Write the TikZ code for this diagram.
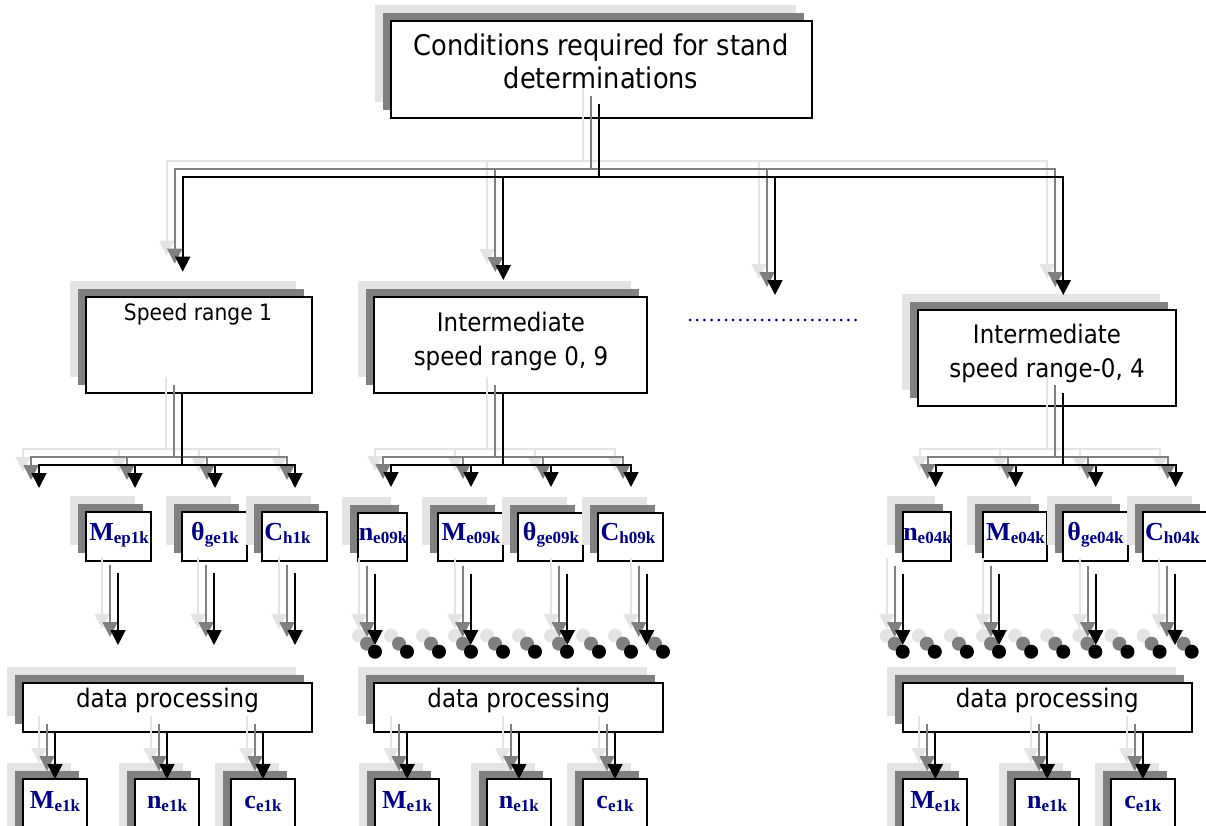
\documentclass[tikz,border=0pt]{standalone}
\usepackage{fontspec}
\setmainfont{DejaVu Sans}[FakeStretch=0.9]
\newfontfamily\lblfam{Liberation Serif}
\usetikzlibrary{arrows.meta,calc}
\definecolor{lg}{HTML}{E4E4E4}
\definecolor{mg}{HTML}{808080}
\definecolor{navy}{HTML}{000080}
\tikzset{
  bx/.style={draw=black, line width=2pt, fill=white, inner sep=0pt, outer sep=0pt},
  cn/.style={line width=1.8pt},
  arr/.style={-{Triangle[length=15pt,width=15pt]}},
  arrb/.style={{Triangle[length=15pt,width=15pt]}-{Triangle[length=15pt,width=15pt]}},
  txt/.style={anchor=base, inner sep=0pt, font=\fontsize{25.5}{30}\selectfont},
  ttop/.style={anchor=base, inner sep=0pt, font=\fontsize{28.5}{33}\selectfont},
  tsm/.style={anchor=base, inner sep=0pt, font=\fontsize{22.5}{27}\selectfont},
  lab/.style={anchor=base, inner sep=0pt, text=navy, font=\lblfam\bfseries},
  dotrow/.style={line width=3pt, line cap=round, dash pattern=on 0pt off 7.2pt},
}
\newcommand\shbx[5]{%
  \fill[lg] (#2-16,#3-16) rectangle (#4-16,#5-16);
  \fill[mg] (#2-8,#3-8) rectangle (#4-8,#5-8);
  \node[bx, minimum width={(#4-#2)*1pt}, minimum height={(#5-#3)*1pt}] (#1) at ({(#2+#4)/2},{(#3+#5)/2}) {};}
\newcommand\lbtxt[2]{{\fontsize{26}{26}\selectfont #1}\raisebox{-3.5pt}{\fontsize{17}{17}\selectfont #2}}
\newcommand\allconn{%
  % top level
  \draw[cn] (stemT) -- (jT);
  \draw[cn,arrb] (tipA) -- (jA) -- (jD) -- (tipD);
  \draw[cn,arr] (jB) -- (tipB);
  \draw[cn,arr] (jC) -- (tipC);
  % column 1
  \draw[cn] (182.3,393) -- (182.3,465);
  \draw[cn,arrb] (39,488) -- (39,465) -- (295,465) -- (295,488);
  \draw[cn,arr] (135,465) -- (135,488);
  \draw[cn,arr] (215,465) -- (215,488);
  \foreach \x in {118,214,295} \draw[cn,arr] (\x,573) -- (\x,645);
  \foreach \n in {1,2,3} \draw[cn,arr] (D1.south -| e1\n.north) -- (e1\n.north);
  % column 2
  \draw[cn] (502.7,393) -- (502.7,465);
  \draw[cn,arrb] (391,487) -- (391,465) -- (631,465) -- (631,487);
  \draw[cn,arr] (471,465) -- (471,487);
  \draw[cn,arr] (551,465) -- (551,487);
  \foreach \x in {375,470.7,567.3,646.7} \draw[cn,arr] (\x,574) -- (\x,645);
  \foreach \k in {0,...,9} \fill ({375+32*\k},651.7) circle[radius=7pt];
  \foreach \n in {1,2,3} \draw[cn,arr] (D2.south -| e2\n.north) -- (e2\n.north);
  % column 3
  \draw[cn] (1062.7,392.7) -- (1062.7,465);
  \draw[cn,arrb] (935.7,487) -- (935.7,465) -- (1175.7,465) -- (1175.7,487);
  \draw[cn,arr] (1015.7,465) -- (1015.7,487);
  \draw[cn,arr] (1095.7,465) -- (1095.7,487);
  \foreach \x in {902.7,999,1095.7,1175} \draw[cn,arr] (\x,574) -- (\x,645);
  \foreach \k in {0,...,9} \fill ({902.7+32.11*\k},651.7) circle[radius=7pt];
  \foreach \n in {1,2,3} \draw[cn,arr] (D3.south -| e3\n.north) -- (e3\n.north);
}
\begin{document}
\begin{tikzpicture}[x=1pt,y=-1pt]
\useasboundingbox (0,0) rectangle (1206,825);
\clip (0,0) rectangle (1206,825);
% boxes
\shbx{top}{391}{21}{812}{118}
\shbx{sr1}{86}{297}{312}{393}
\shbx{sr09}{374.3}{296.7}{647.3}{393.3}
\shbx{sr04}{918.3}{310}{1175.7}{406}
\shbx{a1}{86}{512}{151}{561}
\shbx{a2}{182}{512}{247}{561}
\shbx{a3}{262}{512}{327}{561}
\shbx{b1}{358}{512.5}{407}{561}
\shbx{b2}{438}{512.5}{503}{561}
\shbx{b3}{518}{512.5}{583}{561}
\shbx{b4}{598}{512.5}{663}{561}
\shbx{c1}{903}{512}{951}{561}
\shbx{c2}{983}{512}{1047}{561}
\shbx{c3}{1063}{512}{1128}{561}
\shbx{c4}{1143}{512}{1208}{561}
\shbx{D1}{23}{683}{312}{732}
\shbx{D2}{374.3}{683.3}{663.3}{731.7}
\shbx{D3}{902.7}{683.3}{1191.7}{731.7}
\shbx{e11}{23}{779}{87}{845}
\shbx{e12}{135}{779}{199}{845}
\shbx{e13}{231}{779}{295}{845}
\shbx{e21}{375}{779}{439.3}{845}
\shbx{e22}{486.7}{779}{551}{845}
\shbx{e23}{582.7}{779}{647.3}{845}
\shbx{e31}{903.3}{779}{967.3}{845}
\shbx{e32}{1015}{779}{1079.3}{845}
\shbx{e33}{1110.7}{779}{1175}{845}
% connector points
\coordinate (stemT) at (598.7,104);
\coordinate (jT) at (598.7,176.7);
\coordinate (jA) at (182.7,176.7);
\coordinate (jB) at (503.3,176.7);
\coordinate (jC) at (775,176.7);
\coordinate (jD) at (1063.3,176.7);
\coordinate (tipA) at (182.7,271.7);
\coordinate (tipB) at (503.3,280);
\coordinate (tipC) at (775,295);
\coordinate (tipD) at (1063.3,295);
% connectors with two shadow copies
\begin{scope}[transform canvas={shift={(-16,-16)}}, color=lg]\allconn\end{scope}
\begin{scope}[transform canvas={shift={(-8,-8)}}, color=mg]\allconn\end{scope}
\begin{scope}[color=black]\allconn\end{scope}
% ellipsis
\draw[navy, dotrow] (690,320) -- (860,320);
% texts
\node[ttop] at (601,55) {Conditions required for stand};
\node[ttop] at (601,88) {determinations};
\node[tsm] at (198,320) {Speed range 1};
\node[txt] at (511,331.7) {Intermediate};
\node[txt] at (511,365) {speed range 0, 9};
\node[txt] at (1047,343) {Intermediate};
\node[txt] at (1047,377.7) {speed range-0, 4};
\node[txt] at (D1.center |- 0,707) {data processing};
\node[txt] at (D2.center |- 0,707) {data processing};
\node[txt] at (D3.center |- 0,707) {data processing};
% labels
\node[lab] at (119,540) {\lbtxt{M}{ep1k}};
\node[lab] at (215,540) {\lbtxt{θ}{ge1k}};
\node[lab] at (287.5,540) {\lbtxt{C}{h1k}};
\node[lab] at (383,540) {\lbtxt{n}{e09k}};
\node[lab] at (471,540) {\lbtxt{M}{e09k}};
\node[lab] at (551,540) {\lbtxt{θ}{ge09k}};
\node[lab] at (628,540) {\lbtxt{C}{h09k}};
\node[lab] at (927.5,540) {\lbtxt{n}{e04k}};
\node[lab] at (1015.5,540) {\lbtxt{M}{e04k}};
\node[lab] at (1095.5,540) {\lbtxt{θ}{ge04k}};
\node[lab] at (1172.5,540) {\lbtxt{C}{h04k}};
\foreach \c in {1,2,3}{
  \node[lab] at (e\c1.north |- 0,808) {\lbtxt{M}{e1k}};
  \node[lab] at (e\c2.north |- 0,808) {\lbtxt{n}{e1k}};
  \node[lab] at (e\c3.north |- 0,808) {\lbtxt{c}{e1k}};
}
\end{tikzpicture}
\end{document}
